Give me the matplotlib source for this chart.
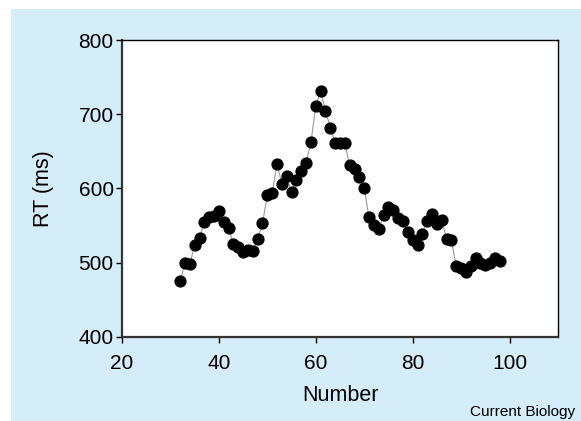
import matplotlib
matplotlib.use("Agg")
import matplotlib.pyplot as plt
from matplotlib.patches import Rectangle

plt.rcParams['font.family'] = ['Liberation Sans', 'DejaVu Sans']

number = list(range(32, 99))
rt = [475, 500, 498, 524, 534, 555, 562, 563, 570, 555,
      547, 525, 521, 514, 517, 516, 532, 553, 591, 594,
      633, 606, 617, 595, 612, 623, 635, 662, 711, 731,
      705, 682, 661, 661, 661, 631, 626, 616, 600, 561,
      551, 545, 564, 575, 571, 560, 556, 542, 531, 524,
      539, 556, 566, 552, 558, 532, 530, 495, 493, 487,
      495, 506, 500, 497, 500, 507, 502]

xticks = [20, 40, 60, 80, 100]
yticks = [400, 500, 600, 700, 800]

W, H = 581, 421
fig = plt.figure(figsize=(W / 100, H / 100), dpi=100, facecolor='white')
bg = Rectangle((11 / W, 0), 1 - 11 / W, 1 - 9 / H,
               transform=fig.transFigure, facecolor='#d5ecf9',
               edgecolor='none', zorder=-10)
fig.add_artist(bg)
ax = fig.add_axes([122 / W, 1 - 337 / H, (558 - 122) / W, (337 - 40) / H])
ax.set_zorder(5)
ax.set_facecolor('white')
ax.plot(number, rt, color='#999999', linewidth=0.8, zorder=2)
ax.plot(number, rt, linestyle='none', marker='o', markersize=7.8,
        markerfacecolor='black', markeredgecolor='black', zorder=3)
ax.set_xlim(20, 110)
ax.set_ylim(400, 800)
ax.set_xticks(xticks)
ax.set_yticks(yticks)
ax.tick_params(direction='out', length=4, width=1, labelsize=15,
               colors='black')
ax.tick_params(axis='x', pad=8)
ax.tick_params(axis='y', pad=2)
for s in ['left', 'bottom']:
    ax.spines[s].set_linewidth(1.6)
    ax.spines[s].set_color('#333333')
for s in ['top', 'right']:
    ax.spines[s].set_linewidth(1.0)
    ax.spines[s].set_color('black')
ax.set_xlabel('Number', fontsize=15.5, labelpad=9)
ax.set_ylabel('RT (ms)', fontsize=15.5, labelpad=18)
fig.text(575 / W, 1 - 419 / H, 'Current Biology', ha='right', va='bottom',
         fontsize=11)
fig.savefig('out.png', dpi=100, facecolor='white')
